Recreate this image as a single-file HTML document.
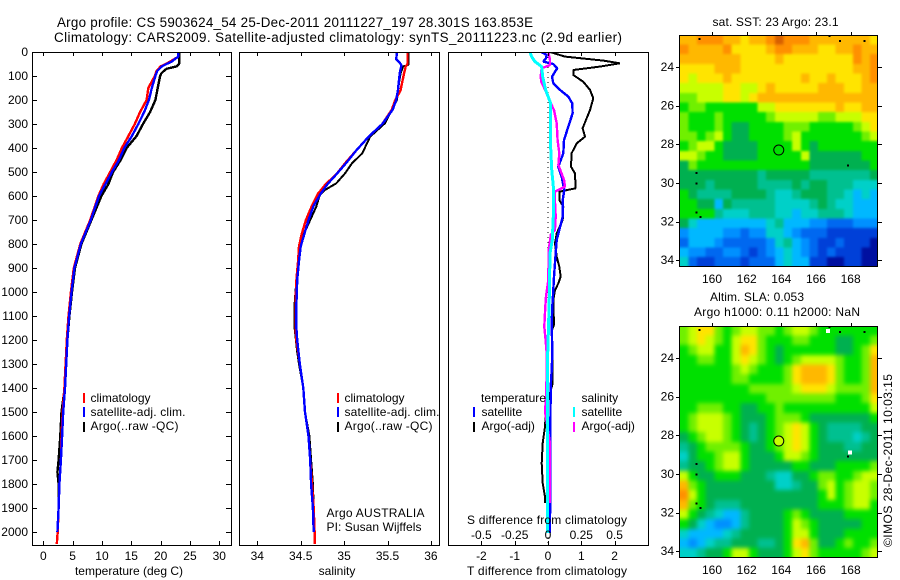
<!DOCTYPE html>
<html>
<head>
<meta charset="utf-8">
<title>Argo profile chart</title>
<style>
html,body{margin:0;padding:0;background:#fff;}
svg{display:block;}
text{font-family:"Liberation Sans",Arial,sans-serif;font-size:12px;fill:#000;}
.title{font-size:13.4px;}
</style>
</head>
<body>
<svg id="chart" xmlns="http://www.w3.org/2000/svg" width="900" height="580" viewBox="0 0 900 580">
  <rect x="0" y="0" width="900" height="580" fill="#fff"/>
  <text class="title" x="57" y="27" textLength="476" lengthAdjust="spacing">Argo profile: CS 5903624_54 25-Dec-2011 20111227_197 28.301S 163.853E</text>
  <text class="title" x="54" y="42" textLength="568" lengthAdjust="spacing">Climatology: CARS2009. Satellite-adjusted climatology: synTS_20111223.nc (2.9d earlier)</text>
  <g id="plots"></g>

  <text x="129" y="575" text-anchor="middle">temperature (deg C)</text>
  <text x="337" y="575" text-anchor="middle">salinity</text>
  <text x="547" y="575" text-anchor="middle" textLength="160" lengthAdjust="spacing">T difference from climatology</text>
  <text x="547" y="524" text-anchor="middle" textLength="160" lengthAdjust="spacing">S difference from climatology</text>

  <g>
    <rect x="83" y="393" width="2" height="10" fill="#f00"/>
    <rect x="83" y="407" width="2" height="10" fill="#00f"/>
    <rect x="83" y="422" width="2" height="10" fill="#000"/>
    <text x="90.5" y="402">climatology</text>
    <text x="90.5" y="416" textLength="95" lengthAdjust="spacing">satellite-adj. clim.</text>
    <text x="90.5" y="430" textLength="88" lengthAdjust="spacing">Argo(..raw -QC)</text>
  </g>
  <g>
    <rect x="337" y="393" width="2" height="10" fill="#f00"/>
    <rect x="337" y="407" width="2" height="10" fill="#00f"/>
    <rect x="337" y="422" width="2" height="10" fill="#000"/>
    <text x="344.5" y="402">climatology</text>
    <text x="344.5" y="416" textLength="95" lengthAdjust="spacing">satellite-adj. clim.</text>
    <text x="344.5" y="430" textLength="88" lengthAdjust="spacing">Argo(..raw -QC)</text>
    <text x="326.5" y="517" textLength="98" lengthAdjust="spacing">Argo AUSTRALIA</text>
    <text x="326.5" y="531" textLength="95" lengthAdjust="spacing">PI: Susan Wijffels</text>
  </g>
  <g>
    <text x="481" y="402" textLength="65" lengthAdjust="spacing">temperature</text>
    <text x="581.5" y="402">salinity</text>
    <rect x="473" y="407" width="2" height="10" fill="#00f"/>
    <rect x="473" y="422" width="2" height="10" fill="#000"/>
    <rect x="573" y="407" width="2" height="10" fill="#0ff"/>
    <rect x="573" y="422" width="2" height="10" fill="#f0f"/>
    <text x="481.5" y="416">satellite</text>
    <text x="481.5" y="430">Argo(-adj)</text>
    <text x="581.5" y="416">satellite</text>
    <text x="581.5" y="430">Argo(-adj)</text>
  </g>

  <text x="712.5" y="26" textLength="126" lengthAdjust="spacing">sat. SST: 23 Argo: 23.1</text>
  <text x="710" y="301" textLength="94" lengthAdjust="spacing">Altim. SLA: 0.053</text>
  <text x="694" y="316" textLength="166" lengthAdjust="spacing">Argo h1000: 0.11 h2000: NaN</text>
  <text transform="translate(892,547) rotate(-90)" textLength="173" lengthAdjust="spacing">©IMOS 28-Dec-2011 10:03:15</text>
</svg>
<script>
// ---- profile data ----
const depthTicks = [0,100,200,300,400,500,600,700,800,900,1000,1100,1200,1300,1400,1500,1600,1700,1800,1900,2000];
const tempTicks = [0,5,10,15,20,25,30];
const salTicks = [34,34.5,35,35.5,36];
const salTickLabels = ['34','34.5','35','35.5','36'];
const tDiffTicks = [-2,-1,0,1,2];
const sDiffTicks = [-0.5,-0.25,0,0.25,0.5];
const sDiffTickLabels = ['-0.5','-0.25','0','0.25','0.5'];

const tempDepths = [0,20,30,40,50,60,80,100,150,200,250,300,350,400,450,500,550,600,700,800,900,1000,1100,1200,1300,1400,1500,1600,1700,1800,1900,2000,2050];
const tempClim = [23.0,23.0,22.3,21.6,20.9,20.0,19.3,19.0,17.9,17.6,16.5,15.6,14.5,13.4,12.5,11.4,10.3,9.4,8.0,6.3,5.2,4.7,4.3,4.0,3.8,3.6,3.3,3.1,3.0,2.75,2.6,2.45,2.3];
const tempSat = [23.0,23.0,22.4,21.9,21.0,20.2,19.4,19.1,18.5,18.0,17.2,16.2,15.1,13.8,12.9,11.7,10.6,9.5,8.1,6.4,5.3,4.8,4.4,4.1,3.9,3.7,3.4,3.2,3.0,2.75,2.6,2.4,2.4];
const tempArgoDepths = [0,50,60,70,80,90,100,150,200,250,300,350,400,450,500,550,600,700,800,900,1000,1100,1200,1300,1400,1500,1600,1700,1750,1800,1900];
const tempArgo = [23.15,23.15,22.7,21.0,20.5,20.1,19.9,19.5,19.1,18.2,17.0,15.9,14.2,13.2,11.9,11.1,9.9,8.2,6.5,5.4,4.9,4.45,4.1,3.9,3.65,3.1,2.9,2.6,2.4,2.6,2.6];

const salDepths = [0,50,60,90,160,200,240,300,350,410,460,510,550,590,640,700,760,810,870,950,1050,1150,1200,1300,1400,1500,1600,1700,1800,1900,2000,2050];
const salClim = [35.73,35.73,35.71,35.69,35.65,35.59,35.55,35.44,35.29,35.14,35.02,34.91,34.79,34.70,34.63,34.56,34.51,34.48,34.47,34.45,34.44,34.44,34.45,34.49,34.53,34.55,34.59,34.61,34.63,34.65,34.66,34.66];
const salSatDepths = [0,30,45,55,90,160,200,240,300,350,410,460,510,550,590,640,700,760,810,870,950,1050,1150,1200,1300,1400,1500,1600,1700,1800,1900,2000];
const salSat = [35.61,35.60,35.64,35.66,35.64,35.62,35.60,35.56,35.44,35.29,35.14,35.03,34.91,34.81,34.73,34.65,34.59,34.54,34.50,34.48,34.46,34.45,34.45,34.46,34.49,34.53,34.55,34.59,34.61,34.62,34.64,34.65];
const salArgoDepths = [0,54,60,90,160,200,228,297,353,422,464,506,547,575,596,644,700,755,811,867,950,1050,1150,1250,1300,1400,1500,1600,1700,1800,1900];
const salArgo = [35.74,35.74,35.68,35.65,35.62,35.61,35.57,35.47,35.30,35.21,35.09,35.01,34.91,34.78,34.72,34.68,34.61,34.54,34.49,34.47,34.45,34.43,34.43,34.46,34.48,34.53,34.55,34.60,34.62,34.64,34.65];

const dTSatDepths = [0,12,26,40,50,68,82,103,130,158,186,214,256,311,367,422,478,520,575,617,686,742,783,839,936,992,1061,1130,1256,1325,1394,1600,2005];
const dTSat = [-0.21,-0.04,-0.06,-0.14,0.16,0.28,0.21,0.12,0.16,0.36,0.61,0.73,0.74,0.61,0.48,0.46,0.31,0.41,0.49,0.44,0.44,0.34,0.26,0.23,0.18,0.16,0.13,0.11,0.13,0.11,0.08,0.07,0.06];
const dTArgoDepths = [0,19,36,47,61,75,96,124,158,193,242,283,318,353,381,422,478,506,568,582,617,644,700,756,797,853,894,936,964,992,1033,1137,1160,1367,1380,1422,1485,1561,1630,1714,1797,1853,1880];
const dTArgo = [0.06,0.51,1.66,2.16,1.56,0.76,0.76,1.06,1.26,1.36,1.26,1.14,1.04,1.11,0.86,0.71,0.69,0.81,0.83,0.34,0.34,0.46,0.44,0.26,0.21,0.26,0.34,0.38,0.31,0.21,0.16,0.18,0.11,0.14,0.14,0.06,-0.06,-0.09,-0.16,-0.19,-0.16,-0.09,-0.09];
const dSArgoDepths = [0,33,54,68,103,124,158,207,242,297,367,422,471,533,561,582,617,686,742,760,825,950,980,1019,1061,1144,1200,1256,1400,1500,1630,1800,1880];
const dSArgo = [0.002,0.015,0.015,-0.048,-0.055,-0.05,-0.022,0.015,0.045,0.065,0.072,0.085,0.078,0.12,0.128,0.052,0.052,0.058,0.052,0.022,0.005,0.002,-0.005,-0.015,-0.02,-0.028,-0.018,-0.01,-0.012,-0.022,0.015,0.015,0.015];
const dSSatDepths = [0,20,40,61,103,158,214,300,400,490,560,686,783,839,1019,1117,1256,1394,1600,2005];
const dSSat = [-0.135,-0.122,-0.098,-0.048,-0.04,-0.018,0.02,0.02,0.02,0.028,0.04,0.04,0.032,0.015,0.01,0.005,-0.002,-0.002,-0.002,-0.002];

// ---- map data ----
const lonTicks = [160,162,164,166,168];
const latTicks = [24,26,28,30,32,34];
const profileLon = 163.853;
const profileLat = 28.301;
const islandLons = [159.27,166.77,167.38,168.79,167.85,159.1,159.1,159.12,159.35];
const islandLats = [22.55,22.41,22.66,22.66,29.09,29.5,30.02,31.52,31.76];
const slaGapLons = [166.7,167.95];
const slaGapLats = [22.6,28.9];
const sstLevels = [
[12,12,13,13,13,12,12,11,12,12,13,14,13,13,13,12,12,12,12,12,12,12,11],
[13,12,12,12,12,13,11,11,11,11,12,13,13,12,12,12,11,11,12,12,13,12,12],
[12,12,12,12,12,12,12,11,11,11,11,12,11,11,11,11,11,11,11,11,13,12,13],
[11,11,11,11,12,12,12,11,11,11,11,11,11,11,11,11,11,11,11,11,12,12,13],
[11,10,11,11,11,12,11,11,11,11,11,11,11,11,12,11,11,12,11,11,11,12,13],
[10,10,10,10,10,11,11,10,10,11,12,11,11,11,11,11,12,12,12,11,11,12,12],
[9,9,10,10,10,11,11,10,11,12,12,12,12,12,12,12,12,12,12,12,12,12,12],
[8,9,9,8,8,8,8,8,8,10,10,11,11,11,11,11,11,11,12,11,11,12,12],
[9,8,8,8,9,8,8,8,8,8,9,10,10,10,10,10,9,9,10,10,10,11,11],
[9,8,8,8,9,8,7,7,8,8,8,8,9,9,9,8,8,8,8,8,9,10,11],
[9,9,8,9,10,8,7,7,8,8,8,8,9,10,8,8,8,8,8,8,8,9,10],
[8,9,10,10,8,7,7,7,7,8,8,8,8,10,8,7,8,8,8,8,8,8,8],
[10,10,9,8,8,7,7,7,7,8,8,8,8,8,10,7,7,7,7,7,7,8,8],
[7,9,8,8,8,8,8,8,8,8,8,8,8,8,8,7,7,7,7,7,7,7,8],
[7,7,7,7,7,7,7,7,7,6,7,7,7,7,7,6,6,6,6,6,6,6,7],
[7,7,7,6,7,7,7,7,7,6,6,6,6,7,6,7,7,6,6,6,5,5,5],
[8,7,6,6,6,6,7,7,7,7,6,5,5,6,7,7,7,6,6,5,4,5,4],
[8,8,7,7,4,7,6,6,6,6,6,5,5,5,5,6,7,6,5,5,4,4,4],
[8,8,8,8,6,5,5,5,6,6,6,5,5,4,5,5,6,6,6,5,4,4,4],
[7,5,4,4,4,4,4,4,4,4,5,6,4,4,4,3,3,2,2,2,3,3,3],
[3,4,4,4,4,3,3,2,3,3,5,5,4,3,2,2,2,1,1,1,1,1,1],
[2,4,4,4,3,2,2,2,2,2,3,5,6,4,3,2,1,1,2,1,1,1,0],
[4,3,3,2,2,3,3,2,1,2,3,4,5,4,3,2,1,2,1,1,1,0,0],
[5,2,1,1,2,2,2,1,2,2,2,4,5,4,4,1,1,0,0,1,1,0,0]
];
const slaLevels = [
[9,10,11,11,9,8,9,10,10,9,9,8,9,10,10,9,8,8,8,8,8,8,8],
[9,10,11,10,9,8,10,11,11,9,8,8,8,9,9,8,8,8,7,7,8,8,9],
[8,9,10,10,8,8,10,12,11,9,8,7,8,8,8,8,8,8,7,7,8,9,11],
[8,8,9,9,8,8,10,11,10,9,8,7,8,9,10,10,10,10,9,8,8,9,12],
[8,8,8,8,8,8,9,10,9,8,8,8,9,11,12,12,12,11,9,8,8,9,12],
[8,8,8,8,8,8,9,9,8,8,8,8,9,11,12,12,12,11,9,8,8,9,12],
[8,8,8,8,8,8,8,8,9,9,9,9,9,10,11,11,11,10,9,9,9,9,12],
[8,8,8,8,8,8,8,8,8,8,9,9,9,9,9,9,9,9,8,8,8,9,11],
[8,8,9,9,9,8,8,7,7,8,8,9,8,8,8,8,8,8,8,8,8,8,10],
[8,9,10,10,10,9,8,7,7,7,8,9,9,9,8,7,7,7,7,7,7,7,8],
[8,9,10,10,10,9,8,7,6,7,8,9,10,11,10,8,7,6,6,6,6,7,7],
[7,8,9,10,10,9,8,7,6,7,8,9,10,11,10,8,7,6,6,6,5,6,7],
[6,7,8,9,9,9,9,8,7,7,8,9,10,11,10,8,7,7,7,6,6,7,7],
[5,7,8,8,9,10,10,8,7,7,7,8,10,10,9,8,7,7,7,7,7,7,7],
[6,7,7,8,9,10,10,8,7,7,7,7,7,8,8,7,7,7,8,8,8,8,9],
[10,8,7,7,8,8,8,7,7,7,6,5,5,7,7,8,9,9,8,8,9,10,10],
[12,9,8,7,7,7,7,7,7,7,7,5,5,6,7,7,9,10,8,9,10,10,9],
[13,10,8,7,7,7,7,7,7,7,7,7,7,7,7,7,8,10,8,9,10,10,9],
[12,9,8,7,6,6,6,7,7,7,7,7,7,7,7,7,8,8,8,9,10,10,8],
[10,8,7,6,5,4,4,6,7,7,7,7,8,9,8,7,7,7,7,8,8,8,8],
[8,7,5,4,3,3,4,6,7,7,7,7,8,10,9,8,7,7,7,7,7,8,8],
[5,4,4,4,4,5,6,7,7,7,7,7,8,10,10,8,7,7,7,8,8,8,8],
[4,3,4,5,6,6,7,7,7,6,6,7,8,11,12,9,7,7,8,9,8,8,9],
[5,5,6,7,7,8,10,10,8,7,7,7,8,10,11,9,8,8,8,8,8,9,10]
];
const levelColours = ['#0010a0','#0040d8','#0068f0','#0090ff','#00b8ff','#00d0c8','#00c090','#00b050','#00e000','#70f000','#c8ff00','#ffe400','#ffb800','#ff9000','#d86000'];

// ---- helpers ----
const NS = 'http://www.w3.org/2000/svg';
const root = document.getElementById('plots');
function make(tag, attrs, parent) {
  const n = document.createElementNS(NS, tag);
  for (const k in attrs) n.setAttribute(k, attrs[k]);
  (parent || root).appendChild(n);
  return n;
}
const yDepth = d => 52 + d * 0.24;
const xTemp = t => 43.3 + t * 5.867;
const xSal = s => 257.3 + (s - 34) * 86.8;
const xDT = t => 548 + t * 33.3;
const xDS = s => 548 + s * 133.2;

function drawSeries(name, colour, width, xf, depths, values, parent) {
  const pts = values.map((v, i) => xf(v).toFixed(1) + ',' + yDepth(depths[i]).toFixed(1)).join(' ');
  const line = make('polyline', {points: pts, fill: 'none', stroke: colour, 'stroke-width': width, 'shape-rendering': 'crispEdges', 'stroke-linejoin': 'bevel'}, parent);
  
  
}
function drawFrame(name, x0, x1, y0, y1) {
  const f = make('rect', {x: x0 + 0.5, y: y0 + 0.5, width: x1 - x0, height: y1 - y0, fill: 'none', stroke: '#000', 'stroke-width': 1, 'shape-rendering': 'crispEdges'});
  
  
}
function tick(x1, y1, x2, y2) {
  const t = make('line', {x1: x1, y1: y1, x2: x2, y2: y2, stroke: '#000', 'stroke-width': 1, 'shape-rendering': 'crispEdges'});
  
  
}
function label(str, x, y, anchor) {
  const t = make('text', {x: x, y: y, 'text-anchor': anchor});
  t.textContent = str;
  
  
}

// ---- profile panels ----
const P1 = [32, 231], P2 = [239, 439], P3 = [448, 648], PY = [52, 545];
const clip1 = make('clipPath', {id: 'clip-profiles'});
make('rect', {x: 0, y: PY[0], width: 900, height: PY[1] - PY[0]}, clip1);
const seriesLayer = make('g', {'clip-path': 'url(#clip-profiles)'});



drawSeries('temperature-argo-line', '#000', 2.4, xTemp, tempArgoDepths, tempArgo, seriesLayer);
drawSeries('temperature-climatology-line', '#f00', 2.4, xTemp, tempDepths, tempClim, seriesLayer);
drawSeries('temperature-satellite-line', '#00f', 2.4, xTemp, tempDepths.slice(0, 32), tempSat.slice(0, 32), seriesLayer);

drawSeries('salinity-argo-line', '#000', 2, xSal, salArgoDepths, salArgo, seriesLayer);
drawSeries('salinity-climatology-line', '#f00', 2.4, xSal, salDepths, salClim, seriesLayer);
drawSeries('salinity-satellite-line', '#00f', 2.4, xSal, salSatDepths, salSat, seriesLayer);

const zeroLine = make('line', {x1: xDT(0), y1: yDepth(0), x2: xDT(0), y2: yDepth(2050), stroke: '#000', 'stroke-width': 1, 'stroke-dasharray': '1 4', 'shape-rendering': 'crispEdges'}, seriesLayer);


drawSeries('t-difference-argo-line', '#000', 2, xDT, dTArgoDepths, dTArgo, seriesLayer);
drawSeries('t-difference-satellite-line', '#00f', 2.4, xDT, dTSatDepths, dTSat, seriesLayer);
drawSeries('s-difference-argo-line', '#f0f', 2.4, xDS, dSArgoDepths, dSArgo, seriesLayer);
drawSeries('s-difference-satellite-line', '#0ff', 3, xDS, dSSatDepths, dSSat, seriesLayer);

drawFrame('temperature-panel-frame', P1[0], P1[1], PY[0], PY[1]);
drawFrame('salinity-panel-frame', P2[0], P2[1], PY[0], PY[1]);
drawFrame('difference-panel-frame', P3[0], P3[1], PY[0], PY[1]);

depthTicks.forEach(d => {
  const y = Math.round(yDepth(d)) + 0.5;
  tick(P1[0], y, P1[0] + 5, y);
  tick(P1[1] - 5, y, P1[1], y);
  label(String(d), 28, yDepth(d) + 4, 'end');
});
tempTicks.forEach(t => {
  const x = Math.round(xTemp(t)) + 0.5;
  tick(x, PY[0], x, PY[0] + 4);
  tick(x, PY[1] - 4, x, PY[1]);
  label(String(t), xTemp(t), 560, 'middle');
});
salTicks.forEach((s, i) => {
  const x = Math.round(xSal(s)) + 0.5;
  tick(x, PY[0], x, PY[0] + 4);
  tick(x, PY[1] - 4, x, PY[1]);
  label(salTickLabels[i], xSal(s), 560, 'middle');
});
tDiffTicks.forEach(t => {
  const x = Math.round(xDT(t)) + 0.5;
  tick(x, PY[0], x, PY[0] + 4);
  tick(x, PY[1] - 4, x, PY[1]);
  label(String(t), xDT(t), 560, 'middle');
});
sDiffTicks.forEach((s, i) => {
  label(sDiffTickLabels[i], xDS(s), 539, 'middle');
});

// ---- maps ----
const xLon = lon => 712 + (lon - 160) * 17.33;
function drawMap(name, levels, top, circleFill, showGaps, softness) {
  const yLat = lat => top + 31.9 + (lat - 24) * 19.33;
  const x0 = 680, x1 = 878, y0 = top, y1 = top + 231;
  const pad = 15;
  const clip = make('clipPath', {id: name + '-clip'});
  make('rect', {x: x0, y: y0, width: x1 - x0, height: y1 - y0}, clip);
  const filter = make('filter', {id: name + '-soft', filterUnits: 'userSpaceOnUse', x: x0 - pad, y: y0 - pad, width: x1 - x0 + 2 * pad, height: y1 - y0 + 2 * pad, 'color-interpolation-filters': 'sRGB'});
  make('feGaussianBlur', {stdDeviation: softness}, filter);
  const outer = make('g', {'clip-path': 'url(#' + name + '-clip)'});
  
  
  const g = make('g', {filter: 'url(#' + name + '-soft)', 'shape-rendering': 'crispEdges'}, outer);
  
  
  levels.forEach((row, j) => {
    row.forEach((v, i) => {
      const lon = 158.13 + 0.5 * i, lat = 22.34 + 0.5 * j;
      let cx = xLon(lon), cy = yLat(lat), cw = 17.33 * 0.5 + 0.4, ch = 19.33 * 0.5 + 0.4;
      if (i === 0) { cx -= pad; cw += pad; }
      if (i === row.length - 1) { cw += pad; }
      if (j === 0) { cy -= pad; ch += pad; }
      if (j === levels.length - 1) { ch += pad; }
      const c = make('rect', {x: cx.toFixed(2), y: cy.toFixed(2), width: cw.toFixed(2), height: ch.toFixed(2), fill: levelColours[v]}, g);
      
      
    });
  });
  if (showGaps) {
    slaGapLons.forEach((lon, i) => {
      const w = make('rect', {x: xLon(lon) - 2, y: yLat(slaGapLats[i]) - 2, width: 4, height: 4, fill: '#fff', 'shape-rendering': 'crispEdges'}, outer);
      
      
    });
  }
  islandLons.forEach((lon, i) => {
    const s = make('rect', {x: xLon(lon) - 1, y: yLat(islandLats[i]) - 1, width: 2, height: 2, fill: '#000', 'shape-rendering': 'crispEdges'}, outer);
    
    
  });
  drawFrame(name + '-frame', x0 - 1, x1 - 1, y0, y1);
  lonTicks.forEach(lon => {
    const x = Math.round(xLon(lon)) + 0.5;
    tick(x, y0 - 3, x, y0);
    label(String(lon), xLon(lon), y1 + 17, 'middle');
  });
  latTicks.forEach(lat => {
    const y = Math.round(yLat(lat)) + 0.5;
    tick(x0 - 4, y, x0, y);
    tick(x1, y, x1 + 4, y);
    label(String(lat), 674, yLat(lat) + 4, 'end');
  });
  const m = make('circle', {cx: xLon(profileLon), cy: yLat(profileLat), r: 5, fill: circleFill, stroke: '#000', 'stroke-width': 1});
  
  
}
drawMap('sst-map', sstLevels, 35, 'none', false, 1.2);
drawMap('sla-map', slaLevels, 326, '#c8ff00', true, 2.2);
</script>
</body>
</html>
